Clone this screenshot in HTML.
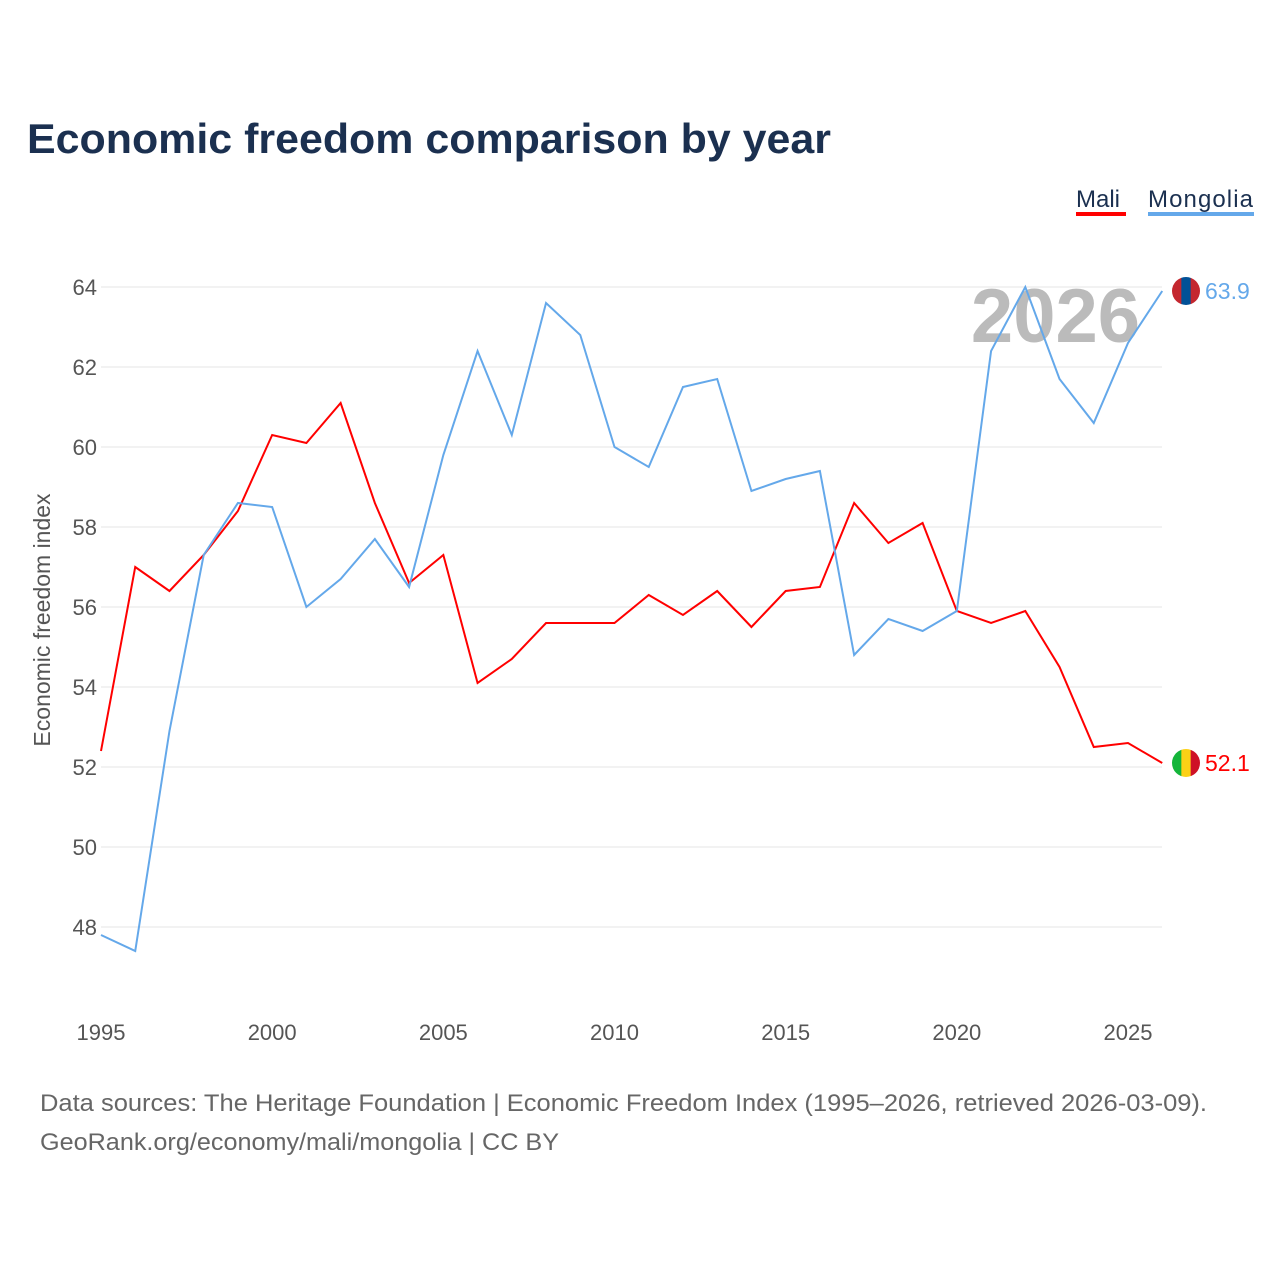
<!DOCTYPE html>
<html><head><meta charset="utf-8">
<style>
body{margin:0;background:#fff;font-family:"Liberation Sans",sans-serif;}
#wrap{position:relative;width:1280px;height:1280px;}
</style></head>
<body>
<div id="wrap">
<svg id="chart" width="1280" height="1280">
<text x="27" y="153" font-size="42" font-weight="bold" fill="#1b3050" textLength="804" lengthAdjust="spacingAndGlyphs">Economic freedom comparison by year</text>
<g>
<text x="1076" y="207" font-size="24" fill="#1b3050">Mali</text>
<rect x="1076" y="212" width="50" height="4" fill="#ff0000"/>
<text x="1148" y="207" font-size="24" fill="#1b3050" textLength="105">Mongolia</text>
<rect x="1148" y="212" width="106" height="4" fill="#64a8ea"/>
</g>
<text x="1140" y="342" font-size="76" font-weight="bold" fill="#bbbbbb" text-anchor="end">2026</text>
<g id="grid"></g><g id="xt"></g><g id="lines"></g>
<text transform="translate(50,620) rotate(-90)" font-size="23" fill="#555" text-anchor="middle">Economic freedom index</text>
<text x="40" y="1111" font-size="24" fill="#666" textLength="1167" lengthAdjust="spacingAndGlyphs">Data sources: The Heritage Foundation | Economic Freedom Index (1995–2026, retrieved 2026-03-09).</text>
<text x="40" y="1150" font-size="24" fill="#666" textLength="519" lengthAdjust="spacingAndGlyphs">GeoRank.org/economy/mali/mongolia | CC BY</text>
</svg>
</div>
<script>
const years=[];for(let y=1995;y<=2026;y++)years.push(y);
const mali=[52.4,57.0,56.4,57.3,58.4,60.3,60.1,61.1,58.6,56.6,57.3,54.1,54.7,55.6,55.6,55.6,56.3,55.8,56.4,55.5,56.4,56.5,58.6,57.6,58.1,55.9,55.6,55.9,54.5,52.5,52.6,52.1];
const mongolia=[47.8,47.4,52.9,57.3,58.6,58.5,56.0,56.7,57.7,56.5,59.8,62.4,60.3,63.6,62.8,60.0,59.5,61.5,61.7,58.9,59.2,59.4,54.8,55.7,55.4,55.9,62.4,64.0,61.7,60.6,62.6,63.9];
const yTicks=[48,50,52,54,56,58,60,62,64];
const xTicks=[1995,2000,2005,2010,2015,2020,2025];
const NS="http://www.w3.org/2000/svg";
const X=v=>101+(v-1995)*(1128-101)/30;
const Y=v=>287+(64-v)*40;
function mk(t,a,p){const e=document.createElementNS(NS,t);for(const k in a)e.setAttribute(k,a[k]);p.appendChild(e);return e;}
const grid=document.getElementById('grid');
yTicks.forEach(t=>{
 const l=mk('line',{x1:101,x2:1162,y1:Y(t),y2:Y(t),stroke:'#e6e6e6','stroke-width':1},grid);
 
 
 const tx=mk('text',{x:97,y:Y(t)+8,'font-size':22,fill:'#555','text-anchor':'end'},grid);
 tx.textContent=t;
 
 
});
const xt=document.getElementById('xt');
xTicks.forEach(t=>{
 const tx=mk('text',{x:X(t),y:1040,'font-size':22,fill:'#555','text-anchor':'middle'},xt);
 tx.textContent=t;
 
 
});
const lines=document.getElementById('lines');
function series(vals,color,name,flag){
 const p=mk('polyline',{points:vals.map((v,i)=>X(years[i])+','+Y(v)).join(' '),fill:'none',stroke:color,'stroke-width':2},lines);
 
 
 const last=vals[vals.length-1];const cy=Y(last);
 const g=mk('g',{},lines);
 
 
 const cp=mk('clipPath',{id:'c'+name},g);mk('circle',{cx:1186,cy:cy,r:14},cp);
 flag.forEach((c,i)=>mk('rect',{x:1172+i*28/3,y:cy-14,width:28/3+0.5,height:28,fill:c,'clip-path':'url(#c'+name+')'},g));
 const tx=mk('text',{x:1205,y:cy+8,'font-size':23,fill:color},lines);
 tx.textContent=last.toFixed(1);
 
 
}
series(mali,'#ff0000','mali',['#14b53a','#fcd116','#ce1126']);
series(mongolia,'#64a8ea','mongolia',['#c4272f','#015197','#c4272f']);
</script>
</body></html>
